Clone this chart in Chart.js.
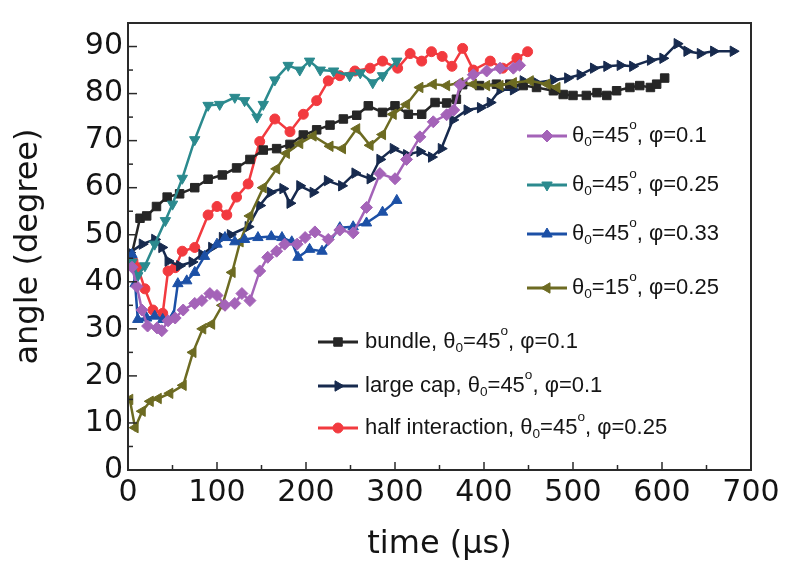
<!DOCTYPE html>
<html lang="en">
<head>
  <meta charset="UTF-8">
  <title>angle x time</title>
  <script src="https://cdn.jsdelivr.net/npm/chart.js"></script>
  <style>
    body { margin: 0; background: #fff; }
    #grafico { display: block; }
  </style>
</head>
<body>
  <canvas id="grafico" width="788" height="569"></canvas>

<script>
  // theta0=45, phi=0.1 (roxo, losango)
  var roxoT = [4.5, 10, 15.7, 22, 32.6, 38, 45, 53, 62, 75, 83, 92, 100, 109, 120, 128, 137, 148, 157, 167,
    176, 190, 199, 210, 225, 238, 253, 268, 283, 300, 313, 328, 343, 358, 366, 373, 388, 403, 418, 433, 440];
  var roxoA = [43.1, 39, 34, 30.6, 30.2, 29.6, 31.7, 32.3, 34, 35.4, 36, 37.5, 37.1, 35, 35.4, 37.5, 36, 42.3, 45.2, 46.5,
    48, 48, 49.4, 50.6, 49, 51, 50.4, 55.8, 63, 61.9, 66, 70.8, 74, 75.5, 76.5, 81.9, 84, 84.8, 85.4, 85.4, 86];

  // theta0=45, phi=0.25 (verde-azulado, triangulo p/ baixo)
  var tealT = [4.5, 11, 19, 30, 42, 50, 61, 75, 90, 103, 120, 131, 145, 152, 165, 180, 193, 204, 216, 231,
    249, 261, 275, 286, 302];
  var tealA = [44.2, 41.3, 43.4, 48, 53, 56.5, 62, 70.2, 77.5, 77.7, 79.2, 78.5, 75, 77.7, 82.9, 86, 85, 86.9, 85, 84.8,
    83.8, 84.4, 82.3, 83.8, 86.9];

  // theta0=45, phi=0.33 (azul, triangulo)
  var azulT = [4.5, 8, 11, 21, 30, 39, 51, 56, 66, 75, 86, 100, 109, 120, 131, 146, 161, 173, 184, 191,
    204, 218, 238, 253, 268, 286, 302];
  var azulA = [45.8, 39.6, 32, 32.3, 32.7, 32, 32.7, 39.6, 40.2, 42, 45.4, 48, 49.4, 48.5, 49, 49.4, 49.6, 49.4, 48.5, 45.2,
    46.9, 46.5, 51.5, 51.7, 52.5, 54.8, 57.3];

  // theta0=15, phi=0.25 (oliva, triangulo p/ esquerda)
  var olivaT = [2, 8, 16, 25, 34, 47, 62, 73, 84, 94, 106, 117, 126, 137, 152, 167, 178, 193, 208, 227,
    241, 257, 272, 286, 298, 313, 328, 343, 358, 373, 388, 403, 418, 433, 452, 471, 482];
  var olivaA = [15, 9, 12.5, 14.6, 15.2, 16.3, 18, 25, 30, 31, 35, 42, 48.5, 54, 60, 64, 67.3, 69.4, 71, 68.8,
    68.3, 72.5, 69, 71.3, 75.6, 77.7, 81.3, 82, 81.7, 82.3, 82, 81.7, 81.7, 82.3, 82.7, 82, 81.3];

  // bundle (preto, quadrado)
  var bundleT = [2, 13.5, 21, 32, 44, 58, 75, 90, 106, 122, 137, 152, 167, 182, 197, 212, 227, 242, 257, 270,
    286, 300, 315, 330, 345, 358, 369, 376, 395, 414, 429, 444, 459, 478, 489, 500, 515, 527, 538, 549,
    564, 575, 587, 594, 603];
  var bundleA = [44, 53.5, 54, 56, 58, 58.7, 60, 61.8, 62.7, 64.2, 66, 68, 68.3, 69.2, 71.2, 72.3, 73.3, 74.6, 75.4, 77.4,
    76, 77.4, 75.6, 75.6, 78.1, 78, 78.8, 81.9, 81.7, 82, 82, 81.7, 81.3, 80.6, 79.8, 79.6, 79.6, 80.2, 79.6, 80.6,
    81.3, 81.7, 81.3, 82, 83.3];

  // large cap (azul escuro, triangulo p/ direita)
  var capT = [2, 16, 30, 38, 45, 58, 72, 83, 94, 106, 115, 135, 148, 160, 174, 182, 193, 208, 224, 240,
    255, 272, 283, 298, 313, 328, 341, 352, 365, 381, 396, 407, 418, 433, 444, 459, 478, 494, 508, 523,
    538, 553, 567, 587, 601, 617, 628, 643, 658, 680];
  var capA = [46.2, 48, 49, 47.3, 44.4, 43.4, 44.2, 45.8, 47.3, 49.4, 50, 51.7, 56.2, 59, 59.8, 56.7, 60.4, 59, 61.5, 60.4,
    63.1, 61.9, 66, 68.3, 67, 67.7, 66.5, 68.3, 74.4, 76.5, 77, 78.1, 80.8, 80.8, 82.7, 82.3, 82.9, 83.3, 84, 85.4,
    85.8, 86, 85.8, 87.1, 87.5, 90.6, 89, 88.5, 89, 89];

  // half interaction (vermelho, circulo)
  var halfT = [5.6, 11, 19, 28, 39, 45, 53, 61, 75, 90, 100, 111, 122, 135, 148, 165, 182, 197, 212, 225,
    238, 255, 272, 286, 303, 317, 330, 341, 353, 364, 376, 388, 407, 421, 437, 449];
  var halfA = [44.4, 43, 38.5, 34, 33.3, 42.3, 43, 46.5, 47.3, 54.2, 56, 54.2, 58, 60.8, 69.8, 74.6, 71.9, 75.6, 78.5, 82.7,
    83.8, 84.8, 85.4, 86.9, 85.4, 88.5, 86.9, 88.9, 87.9, 85.8, 89.6, 85, 86.9, 85.4, 87.5, 88.9];

  var xTicks = [0, 100, 200, 300, 400, 500, 600, 700];
  var yTicks = [0, 10, 20, 30, 40, 50, 60, 70, 80, 90];

  function pontos(t, a) {
    var lista = [];
    for (var i = 0; i < t.length; i++) lista.push({ x: t[i], y: a[i] });
    return lista;
  }

  function serie(nome, t, a, cor, estilo, raio, rot) {
    return {
      label: nome,
      data: pontos(t, a),
      borderColor: cor,
      backgroundColor: cor,
      borderWidth: 2.5,
      pointStyle: estilo,
      pointRadius: raio,
      pointRotation: rot,
      pointBorderWidth: 1,
      tension: 0
    };
  }

  var datasets = [
    serie('purple', roxoT, roxoA, '#a463b8', 'rectRot', 6, 0),
    serie('teal', tealT, tealA, '#2b8a8e', 'triangle', 6, 180),
    serie('blue', azulT, azulA, '#1c50a6', 'triangle', 6, 0),
    serie('olive', olivaT, olivaA, '#6d6b22', 'triangle', 6, 270),
    serie('bundle', bundleT, bundleA, '#262626', 'rect', 6, 0),
    serie('cap', capT, capA, '#172a4e', 'triangle', 6, 90),
    serie('half', halfT, halfA, '#f23a3f', 'circle', 5, 0)
  ];

  // legenda em dois blocos, como no original
  function rotulo(pre, th, phi) {
    return [[pre + '\u03b8'], ['0', 'sub'], ['=' + th], ['o', 'sup'], [', \u03c6=' + phi]];
  }
  var legendaDir = [
    { ds: 0, y: 136, partes: rotulo('', '45', '0.1') },
    { ds: 1, y: 185, partes: rotulo('', '45', '0.25') },
    { ds: 2, y: 234, partes: rotulo('', '45', '0.33') },
    { ds: 3, y: 288, partes: rotulo('', '15', '0.25') }
  ];
  var legendaEsq = [
    { ds: 4, y: 342, partes: rotulo('bundle, ', '45', '0.1') },
    { ds: 5, y: 386, partes: rotulo('large cap, ', '45', '0.1') },
    { ds: 6, y: 428, partes: rotulo('half interaction, ', '45', '0.25') }
  ];

  function textoRico(ctx, x, y, partes, tam) {
    var cx = x;
    partes.forEach(function (p) {
      var f = tam, dy = 0;
      if (p[1] == 'sub') { f = tam * 0.62; dy = tam * 0.3; }
      if (p[1] == 'sup') { f = tam * 0.62; dy = -tam * 0.5; }
      ctx.font = f + 'px "Liberation Sans", Arial, sans-serif';
      ctx.fillText(p[0], cx, y + dy);
      cx += ctx.measureText(p[0]).width;
    });
  }

  function desenhaBloco(chart, itens, x1, x2, xt) {
    var ctx = chart.ctx;
    itens.forEach(function (it) {
      var d = chart.data.datasets[it.ds];
      ctx.strokeStyle = d.borderColor;
      ctx.fillStyle = d.backgroundColor;
      ctx.lineWidth = 3;
      ctx.beginPath();
      ctx.moveTo(x1, it.y);
      ctx.lineTo(x2, it.y);
      ctx.stroke();
      ctx.lineWidth = 1;
      Chart.helpers.drawPoint(ctx, {
        pointStyle: d.pointStyle, radius: d.pointRadius, rotation: d.pointRotation, borderWidth: 1
      }, (x1 + x2) / 2, it.y);
      ctx.fillStyle = '#151515';
      ctx.textBaseline = 'middle';
      ctx.textAlign = 'left';
      textoRico(ctx, xt, it.y, it.partes, 22);
    });
  }

  const moldura = {
    id: 'moldura',
    afterDraw(chart) {
      const ctx = chart.ctx;
      const a = chart.chartArea;
      const sx = chart.scales.x, sy = chart.scales.y;
      ctx.save();
      ctx.strokeStyle = '#2a2a2a';
      ctx.lineWidth = 2;
      ctx.strokeRect(a.left, a.top, a.right - a.left, a.bottom - a.top);
      ctx.lineWidth = 1.5;
      for (let v = 50; v < 700; v += 50) {
        const px = sx.getPixelForValue(v);
        const len = v % 100 == 0 ? 8 : 5;
        ctx.beginPath(); ctx.moveTo(px, a.bottom); ctx.lineTo(px, a.bottom - len); ctx.stroke();
      }
      for (let v = 5; v < 95; v += 5) {
        const py = sy.getPixelForValue(v);
        const len = v % 10 == 0 ? 9 : 5;
        ctx.beginPath(); ctx.moveTo(a.left, py); ctx.lineTo(a.left + len, py); ctx.stroke();
      }
      desenhaBloco(chart, legendaDir, 527, 567, 572);
      desenhaBloco(chart, legendaEsq, 318, 358, 365);
      ctx.restore();
    }
  };

  const config = {
    type: 'line',
    data: { datasets: datasets },
    options: {
      responsive: false,
      animation: false,
      layout: { padding: { left: 0, top: 13, right: 37, bottom: 0 } },
      plugins: { legend: { display: false }, tooltip: { enabled: false } },
      scales: {
        x: {
          type: 'linear',
          min: 0, max: 700,
          grid: { display: false, drawTicks: false },
          border: { display: false },
          afterBuildTicks: function (s) { s.ticks = xTicks.map(function (v) { return { value: v }; }); },
          afterFit: function (s) { s.height = 99; },
          ticks: {
            padding: 5, maxRotation: 0, color: '#141414',
            font: { family: '"DejaVu Sans"', size: 30 }
          },
          title: {
            display: true, text: 'time (\u03bcs)', color: '#141414',
            font: { family: '"DejaVu Sans"', size: 32 },
            padding: { top: 0, bottom: 5 }
          }
        },
        y: {
          min: 0, max: 95,
          grid: { display: false, drawTicks: false },
          border: { display: false },
          afterBuildTicks: function (s) { s.ticks = yTicks.map(function (v) { return { value: v }; }); },
          afterFit: function (s) { s.width = 128; },
          ticks: {
            padding: 5, color: '#141414',
            font: { family: '"DejaVu Sans"', size: 30 }
          },
          title: {
            display: true, text: 'angle (degree)', color: '#141414',
            font: { family: '"DejaVu Sans"', size: 32 },
            padding: { top: 9, bottom: 0 }
          }
        }
      }
    },
    plugins: [moldura]
  };

  let grafico = new Chart(document.getElementById('grafico'), config);
</script>
</body>
</html>
